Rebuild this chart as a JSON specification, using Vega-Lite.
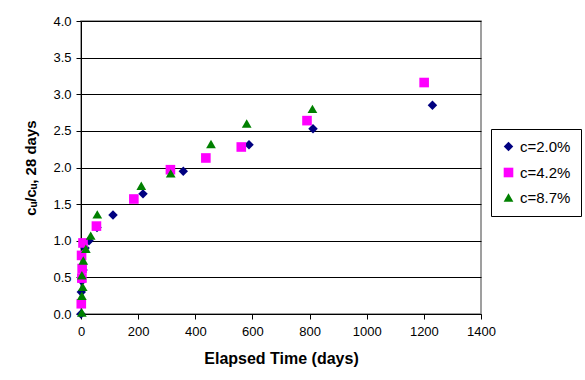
{
  "$schema": "https://vega.github.io/schema/vega-lite/v6.json",
  "autosize": {"type": "none"},
  "width": 400,
  "height": 293,
  "padding": {"left": 81, "top": 21, "right": 104, "bottom": 66},
  "background": "white",
  "config": {
    "font": "Liberation Sans",
    "view": {"stroke": "#808080", "strokeWidth": 1.5}
  },
  "data": {
    "values": [
      {"series": "c=2.0%", "days": 0, "ratio": 0.0},
      {"series": "c=2.0%", "days": 1, "ratio": 0.3},
      {"series": "c=2.0%", "days": 3, "ratio": 0.45},
      {"series": "c=2.0%", "days": 7, "ratio": 0.6},
      {"series": "c=2.0%", "days": 14, "ratio": 0.9},
      {"series": "c=2.0%", "days": 28, "ratio": 1.0},
      {"series": "c=2.0%", "days": 56, "ratio": 1.18},
      {"series": "c=2.0%", "days": 112, "ratio": 1.35},
      {"series": "c=2.0%", "days": 217, "ratio": 1.64},
      {"series": "c=2.0%", "days": 358, "ratio": 1.95},
      {"series": "c=2.0%", "days": 588, "ratio": 2.31},
      {"series": "c=2.0%", "days": 812, "ratio": 2.53},
      {"series": "c=2.0%", "days": 1230, "ratio": 2.85},
      {"series": "c=4.2%", "days": 1, "ratio": 0.14},
      {"series": "c=4.2%", "days": 3, "ratio": 0.49},
      {"series": "c=4.2%", "days": 4, "ratio": 0.62},
      {"series": "c=4.2%", "days": 2, "ratio": 0.8},
      {"series": "c=4.2%", "days": 7, "ratio": 0.97},
      {"series": "c=4.2%", "days": 54, "ratio": 1.2},
      {"series": "c=4.2%", "days": 185, "ratio": 1.57},
      {"series": "c=4.2%", "days": 313, "ratio": 1.97},
      {"series": "c=4.2%", "days": 437, "ratio": 2.13},
      {"series": "c=4.2%", "days": 561, "ratio": 2.28},
      {"series": "c=4.2%", "days": 791, "ratio": 2.64},
      {"series": "c=4.2%", "days": 1201, "ratio": 3.16},
      {"series": "c=8.7%", "days": 3, "ratio": 0.02},
      {"series": "c=8.7%", "days": 3, "ratio": 0.25},
      {"series": "c=8.7%", "days": 6, "ratio": 0.37},
      {"series": "c=8.7%", "days": 3, "ratio": 0.53},
      {"series": "c=8.7%", "days": 8, "ratio": 0.73},
      {"series": "c=8.7%", "days": 17, "ratio": 0.89},
      {"series": "c=8.7%", "days": 34, "ratio": 1.07},
      {"series": "c=8.7%", "days": 57, "ratio": 1.36},
      {"series": "c=8.7%", "days": 211, "ratio": 1.75},
      {"series": "c=8.7%", "days": 314, "ratio": 1.92},
      {"series": "c=8.7%", "days": 455, "ratio": 2.32},
      {"series": "c=8.7%", "days": 580, "ratio": 2.6},
      {"series": "c=8.7%", "days": 810, "ratio": 2.8}
    ]
  },
  "mark": {"type": "point", "filled": true, "opacity": 1},
  "encoding": {
    "x": {
      "field": "days", "type": "quantitative",
      "scale": {"domain": [0, 1400], "nice": false, "zero": false},
      "axis": {
        "values": [0, 200, 400, 600, 800, 1000, 1200, 1400],
        "format": "d",
        "grid": false, "title": "Elapsed Time (days)",
        "titleFont": "Liberation Sans", "titleFontSize": 16, "titleFontWeight": "bold", "titleColor": "#000",
        "titlePadding": 12,
        "labelFont": "Liberation Sans", "labelFontSize": 13, "labelColor": "#000", "labelPadding": 6,
        "domainColor": "#000", "tickColor": "#000", "tickSize": 5, "labelFlush": false
      }
    },
    "y": {
      "field": "ratio", "type": "quantitative",
      "scale": {"domain": [0, 4], "nice": false},
      "axis": {
        "values": [0, 0.5, 1, 1.5, 2, 2.5, 3, 3.5, 4],
        "format": ".1f",
        "grid": true, "gridColor": "#000", "gridWidth": 1,
        "title": "cᵤ/cᵤ, 28 days",
        "titleFont": "Liberation Sans", "titleFontSize": 15, "titleFontWeight": "bold", "titleColor": "#000",
        "titlePadding": 14,
        "labelFont": "Liberation Sans", "labelFontSize": 13, "labelColor": "#000", "labelPadding": 5,
        "domainColor": "#000", "tickColor": "#000", "tickSize": 5, "labelFlush": false
      }
    },
    "size": {
      "field": "series", "type": "nominal",
      "scale": {"domain": ["c=2.0%", "c=4.2%", "c=8.7%"], "range": [90, 95, 135]},
      "legend": null
    },
    "shape": {
      "field": "series", "type": "nominal",
      "scale": {"domain": ["c=2.0%", "c=4.2%", "c=8.7%"], "range": ["diamond", "square", "triangle-up"]},
      "legend": {
        "title": null, "orient": "none", "legendX": 410, "legendY": 108,
        "fillColor": "white", "strokeColor": "#000", "padding": 10,
        "labelFont": "Liberation Sans", "labelFontSize": 15, "labelColor": "#000",
        "symbolSize": 110, "rowPadding": 9, "labelOffset": 4, "symbolOpacity": 1
      }
    },
    "color": {
      "field": "series", "type": "nominal",
      "scale": {"domain": ["c=2.0%", "c=4.2%", "c=8.7%"], "range": ["#000080", "#FF00FF", "#008000"]},
      "legend": {
        "title": null, "orient": "none", "legendX": 410, "legendY": 108,
        "fillColor": "white", "strokeColor": "#000", "padding": 10,
        "labelFont": "Liberation Sans", "labelFontSize": 15, "labelColor": "#000",
        "symbolSize": 110, "rowPadding": 9, "labelOffset": 4, "symbolOpacity": 1
      }
    }
  }
}
